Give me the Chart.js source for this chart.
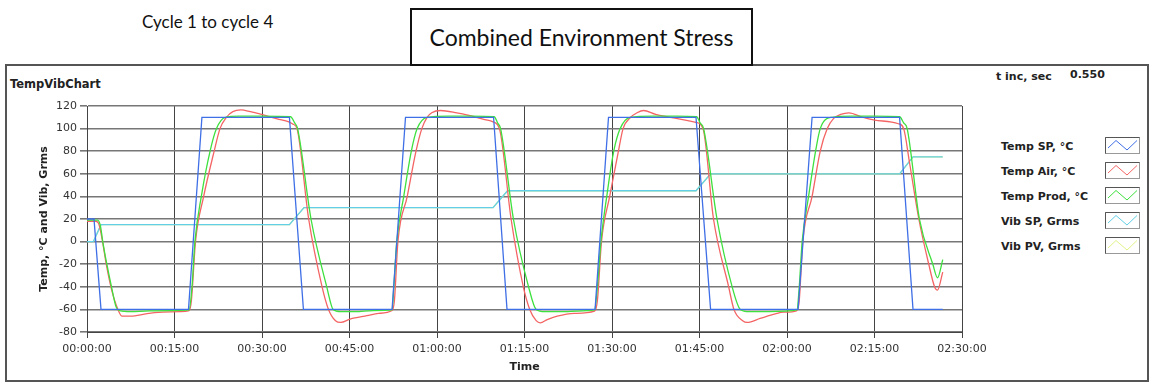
<!DOCTYPE html>
<html lang="en">
<head>
    <meta charset="UTF-8">
    <title>Combined Environment Stress</title>
    <script src="https://cdn.jsdelivr.net/npm/chart.js"></script>
    <style>
        body { margin: 0; width: 1153px; height: 390px; background: #fff; position: relative; overflow: hidden; font-family: "DejaVu Sans", sans-serif; }
        .abs { position: absolute; white-space: nowrap; }
        #outer { left: 5px; top: 64px; width: 1140px; height: 314px; border: 2px solid #555; }
        #titleBox { left: 410px; top: 8px; width: 339px; height: 54px; border: 2px solid #111; background: #fff;
                    font-family: Lato, "Liberation Sans", sans-serif; font-size: 23px; color: #111;
                    display: flex; align-items: center; justify-content: center; }
        #cycle { left: 142px; top: 11px; font-family: Lato, "Liberation Sans", sans-serif; font-size: 17px; color: #111; }
        .lbl { font-weight: bold; font-size: 11px; color: #222; }
        #chartWrap { left: 6px; top: 66px; width: 1140px; height: 314px; }
        .legRow { left: 1001px; width: 140px; height: 17px; }
        .legRow span { position: absolute; left: 0; top: 3px; }
        .legRow svg { position: absolute; left: 104px; top: 0; }
    </style>
</head>
<body>
    <div id="cycle" class="abs">Cycle 1 to cycle 4</div>
    <div id="outer" class="abs"></div>
    <div id="titleBox" class="abs">Combined Environment Stress</div>
    <div class="abs lbl" style="left:10px; top:77px; font-size:11.5px;">TempVibChart</div>
    <div class="abs lbl" style="left:996px; top:70px;">t inc, sec</div>
    <div class="abs lbl" style="left:1070px; top:68px;">0.550</div>
    <div id="legend"></div>
    <div id="chartWrap" class="abs"><canvas id="stressChart" width="1140" height="314"></canvas></div>

<script>
// time axis is in minutes, labels shown as hh:mm:ss
var seriesNames = ['Temp SP, °C', 'Temp Air, °C', 'Temp Prod, °C', 'Vib SP, Grms', 'Vib PV, Grms'];
var seriesColors = ['#3f6fe6', '#f46464', '#3ee03e', '#62cfe6', '#e4f28a'];

var timeTicks = [0, 15, 30, 45, 60, 75, 90, 105, 120, 135, 150];
var tempTicks = [-80, -60, -40, -20, 0, 20, 40, 60, 80, 100, 120];

// Temp SP
var spTime = [0, 1.2, 2.4, 17.4, 19.7, 34.7, 37.1, 52.3, 54.6, 69.7, 72.0, 87.1, 89.4, 104.4, 106.9, 121.9, 124.3, 139.3, 141.6, 146.7];
var spTemp = [20, 20, -60, -60, 110, 110, -60, -60, 110, 110, -60, -60, 110, 110, -60, -60, 110, 110, -60, -60];

// Temp Air
var airTime = [0, 1.5, 2.0, 2.6, 3.3, 4.1, 5.0, 6.0, 7.5, 10.3, 13, 16, 17.5, 17.9, 18.6, 20.0, 21.8, 22.8, 23.9, 25.0, 26.4, 28.0, 29.6, 32.6, 34.6, 35.3, 36.0, 38.0, 40.3, 41.4, 42.6, 43.5, 45.1, 48.0, 50.0, 52.3,
    52.7, 53.3, 54.9, 56.4, 57.4, 58.3, 59.1, 60.6, 63.4, 65.3, 68.2, 69.6, 70.7, 72.7, 74.8, 75.9, 77.0, 77.7, 78.9, 80.6, 83.5, 87.0,
    87.5, 88.2, 89.6, 91.1, 91.9, 93.2, 94.3, 95.4, 97.5, 100, 103, 104.4, 105.6, 107.4, 110.0, 110.9, 112.4, 113.2, 115.4, 118, 119.4, 121.7,
    122.1, 122.7, 124.3, 125.7, 126.9, 128.0, 129.2, 130.6, 133, 135, 139.1, 140.0, 141.0, 142.6, 144.3, 145.3, 145.8, 146.7];
var airTemp = [18, 18, 16, 2, -20, -40, -56, -66, -66, -63.7, -62.5, -62, -61, -52, 0, 40, 80, 100, 110, 115, 116.5, 115, 113, 108.5, 106, 104, 100, 20, -40, -60, -70, -71.5, -68.5, -65.5, -63.5, -61,
    -52, 0, 40, 80, 100, 110, 114, 116, 114, 112, 108, 106, 100, 20, -40, -60, -70, -72, -69, -66, -63.5, -61.5,
    -52, 0, 40, 80, 100, 110, 114, 116, 112.5, 110, 107, 105.5, 100, 20, -40, -60, -70, -71.5, -68, -64, -62.5, -61,
    -52, 0, 40, 80, 100, 109, 112.5, 114, 110, 107.5, 104.3, 100, 70, 20, -20, -40, -43, -27];

// Temp Prod
var prodTime = [0, 1.8, 2.3, 2.7, 3.4, 4.2, 5.0, 5.6, 7.5, 10, 14, 17.5, 18.0, 18.5, 19.6, 21.1, 22.2, 23.7, 26, 30, 34.9, 35.6, 36.1, 38.4, 41.1, 42.2, 43.5, 46, 49, 52.3,
    52.6, 53.1, 54.3, 55.6, 56.6, 58.3, 62, 66, 69.8, 70.4, 70.9, 73.1, 75.7, 77.0, 78.5, 82, 84, 87.0,
    87.5, 88.1, 89.1, 90.3, 91.4, 93.1, 97, 101, 104.5, 105.1, 105.7, 108.0, 110.6, 112.0, 113.5, 117, 121.7,
    122.1, 122.6, 123.7, 124.9, 125.7, 127.7, 131, 135, 139.3, 140.0, 140.6, 142.7, 145.0, 145.8, 146.7];
var prodTemp = [19, 19, 14, 0, -20, -40, -58, -61, -62, -61.5, -61, -60.5, -40, 0, 40, 80, 100, 110, 111, 111, 110.5, 105, 100, 20, -40, -60, -62, -62, -61, -60.5,
    -40, 0, 40, 80, 100, 110, 111, 111, 110.5, 105, 100, 20, -40, -60, -62, -62, -61.5, -60.5,
    -40, 0, 40, 80, 100, 110, 111, 111, 110.5, 105, 100, 20, -40, -60, -62, -62, -60.5,
    -40, 0, 40, 80, 100, 110, 111, 111, 110.5, 105, 100, 20, -20, -32, -16];

// Vib SP / Vib PV
var vibTime = [0, 1.1, 2.4, 34.7, 37.2, 69.6, 72.1, 104.4, 106.9, 139.3, 141.6, 146.7];
var vibSp = [0, 0, 15, 15, 30, 30, 45, 45, 60, 60, 75, 75];
var vibPv = [0, 0, 15, 15, 30, 30, 45, 45, 60, 60, 75, 75];

function toPoints(times, values) {
    var pts = [];
    for (var i = 0; i < times.length; i++) {
        pts.push({ x: times[i], y: values[i] });
    }
    return pts;
}

function hms(min) {
    var h = Math.floor(min / 60);
    var m = Math.round(min % 60);
    return String(h).padStart(2, '0') + ':' + String(m).padStart(2, '0') + ':00';
}

// html legend on the right
var legendHtml = '';
for (var i = 0; i < seriesNames.length; i++) {
    var rowTop = 137 + i * 25;
    legendHtml += '<div class="abs legRow lbl" style="top:' + rowTop + 'px">' +
        '<span>' + seriesNames[i] + '</span>' +
        '<svg width="35" height="17"><rect x="0.5" y="0.5" width="34" height="16" fill="#fff" stroke="#999"/>' +
        '<path d="M0.5 16.5 V0.5 H34.5" fill="none" stroke="#555"/>' +
        '<polyline points="3,11 11,3.5 22,13 32,3.5" fill="none" stroke="' + seriesColors[i] + '" stroke-width="1"/></svg></div>';
}
document.getElementById('legend').innerHTML = legendHtml;

var datasets = [
    { label: seriesNames[0], data: toPoints(spTime, spTemp), borderColor: seriesColors[0], tension: 0 },
    { label: seriesNames[2], data: toPoints(prodTime, prodTemp), borderColor: seriesColors[2], cubicInterpolationMode: 'monotone' },
    { label: seriesNames[1], data: toPoints(airTime, airTemp), borderColor: seriesColors[1], cubicInterpolationMode: 'monotone' },
    { label: seriesNames[3], data: toPoints(vibTime, vibSp), borderColor: seriesColors[3], tension: 0 },
    { label: seriesNames[4], data: toPoints(vibTime, vibPv), borderColor: seriesColors[4], tension: 0 }
];
datasets.forEach(function (d) {
    d.borderWidth = 1.3;
    d.pointRadius = 0;
    d.fill = false;
});

var tickFont = { family: 'DejaVu Sans', size: 11 };
var titleFont = { family: 'DejaVu Sans', size: 11, weight: 'bold' };

var ctx = document.getElementById('stressChart').getContext('2d');
var stressChart = new Chart(ctx, {
    type: 'line',
    data: { datasets: datasets },
    options: {
        responsive: false,
        animation: false,
        layout: { padding: { left: 0, top: 40, right: 184, bottom: 0 } },
        plugins: { legend: { display: false }, tooltip: { enabled: false } },
        scales: {
            x: {
                type: 'linear',
                min: timeTicks[0],
                max: timeTicks[timeTicks.length - 1],
                afterBuildTicks: function (scale) {
                    scale.ticks = timeTicks.map(function (v) { return { value: v }; });
                },
                afterFit: function (scale) { scale.height = 48; },
                ticks: { font: tickFont, color: '#333', padding: 5, maxRotation: 0, autoSkip: false,
                    callback: function (v) { return hms(v); } },
                grid: { color: '#444', lineWidth: 1, tickLength: 6 },
                border: { color: '#444', width: 1 },
                title: { display: true, text: 'Time', font: titleFont, color: '#222', padding: { top: 0, bottom: 6 } }
            },
            y: {
                min: tempTicks[0],
                max: tempTicks[tempTicks.length - 1],
                afterBuildTicks: function (scale) {
                    scale.ticks = tempTicks.map(function (v) { return { value: v }; });
                },
                afterFit: function (scale) { scale.width = 81; },
                ticks: { font: tickFont, color: '#333', padding: 3 },
                grid: { color: '#777', lineWidth: 1.6, tickLength: 7 },
                border: { color: '#444', width: 1 },
                title: { display: true, text: 'Temp, °C and Vib, Grms', font: titleFont, color: '#222', padding: { top: 32, bottom: 0 } }
            }
        }
    }
});
</script>
</body>
</html>
